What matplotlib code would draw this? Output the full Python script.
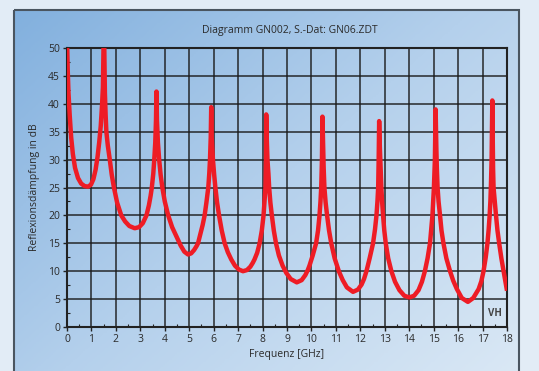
import numpy as np
import matplotlib
matplotlib.use("Agg")
import matplotlib.pyplot as plt
from matplotlib.patches import Rectangle
from matplotlib.colors import LinearSegmentedColormap

plt.rcParams['font.family'] = ['Open Sans', 'DejaVu Sans']

title = "Diagramm GN002, S.-Dat: GN06.ZDT"
xlabel = "Frequenz [GHz]"
ylabel = "Reflexionsdämpfung in dB"
corner_label = "VH"

# (frequency GHz, return loss dB), segment by segment
seg1 = [(0.00, 52.0), (0.03, 46.0), (0.06, 42.0), (0.11, 38.0), (0.17, 34.0), (0.24, 31.0),
        (0.33, 28.5), (0.45, 26.7), (0.58, 25.7), (0.72, 25.25), (0.86, 25.15), (0.98, 25.5),
        (1.08, 26.5), (1.17, 28.2), (1.25, 30.5), (1.32, 33.2), (1.38, 36.0), (1.43, 39.5),
        (1.47, 43.0), (1.51, 55.0)]
seg2 = [(1.55, 42.0), (1.58, 38.0), (1.61, 35.0), (1.67, 32.5), (1.75, 30.0), (1.83, 27.3),
        (1.92, 25.0), (2.05, 22.3), (2.22, 20.0), (2.38, 18.9), (2.55, 18.1), (2.77, 17.7),
        (2.95, 17.9), (3.10, 18.6), (3.25, 20.0), (3.35, 21.8), (3.42, 23.5), (3.47, 25.0),
        (3.53, 27.5), (3.57, 30.0), (3.61, 33.0), (3.64, 37.0), (3.66, 42.2)]
seg3 = [(3.68, 37.0), (3.72, 33.0), (3.77, 30.0), (3.83, 27.3), (3.90, 25.0), (4.00, 22.5),
        (4.14, 20.0), (4.30, 17.9), (4.48, 16.2), (4.65, 14.6), (4.80, 13.5), (4.95, 13.0),
        (5.08, 13.2), (5.20, 13.8), (5.30, 14.5), (5.36, 15.0), (5.46, 16.7), (5.55, 18.3),
        (5.63, 20.0), (5.70, 22.2), (5.78, 25.0), (5.82, 27.5), (5.85, 30.0), (5.88, 34.0),
        (5.90, 39.4)]
seg4 = [(5.92, 34.0), (5.97, 30.0), (6.02, 27.3), (6.07, 25.0), (6.14, 22.3), (6.22, 20.0),
        (6.33, 17.3), (6.45, 15.0), (6.58, 13.4), (6.72, 12.1), (6.87, 11.0), (7.03, 10.3),
        (7.20, 10.0), (7.36, 10.2), (7.50, 10.8), (7.60, 11.5), (7.67, 12.1), (7.78, 13.3),
        (7.88, 15.0), (7.97, 17.3), (8.04, 20.0), (8.08, 22.5), (8.12, 25.0), (8.14, 30.0),
        (8.15, 38.1)]
seg5 = [(8.17, 34.0), (8.20, 30.0), (8.24, 27.5), (8.27, 25.0), (8.32, 22.3), (8.38, 20.0),
        (8.46, 17.3), (8.55, 15.0), (8.67, 12.8), (8.82, 11.0), (8.97, 9.7), (9.15, 8.6),
        (9.40, 8.0), (9.60, 8.4), (9.75, 9.3), (9.85, 10.2), (9.92, 11.0), (10.05, 12.8),
        (10.19, 15.0), (10.27, 17.3), (10.33, 20.0), (10.37, 22.5), (10.40, 25.0),
        (10.43, 30.0), (10.45, 37.7)]
seg6 = [(10.48, 32.0), (10.50, 28.5), (10.53, 25.0), (10.58, 22.3), (10.64, 20.0),
        (10.72, 17.3), (10.81, 15.0), (10.95, 12.3), (11.12, 10.0), (11.28, 8.4),
        (11.45, 7.1), (11.70, 6.3), (11.90, 6.7), (12.05, 7.6), (12.15, 8.6), (12.25, 10.0),
        (12.38, 12.3), (12.52, 15.0), (12.60, 17.5), (12.66, 20.0), (12.70, 22.5),
        (12.73, 25.0), (12.75, 30.0), (12.77, 36.9)]
seg7 = [(12.80, 32.0), (12.83, 28.5), (12.86, 25.0), (12.89, 22.5), (12.93, 20.0),
        (12.98, 17.3), (13.04, 15.0), (13.14, 12.3), (13.27, 10.0), (13.42, 8.1),
        (13.60, 6.6), (13.80, 5.6), (14.00, 5.3), (14.20, 5.6), (14.38, 6.6), (14.52, 8.1),
        (14.64, 10.0), (14.75, 12.3), (14.85, 15.0), (14.90, 17.5), (14.95, 20.0),
        (14.98, 22.5), (15.01, 25.0), (15.05, 30.0), (15.08, 39.0)]
seg8 = [(15.11, 32.0), (15.13, 28.5), (15.16, 25.0), (15.20, 22.5), (15.26, 20.0),
        (15.32, 17.3), (15.40, 15.0), (15.52, 12.3), (15.67, 10.0), (15.80, 8.3),
        (15.95, 6.8), (16.15, 5.2), (16.40, 4.5), (16.62, 5.2), (16.84, 6.8), (16.95, 8.2),
        (17.04, 10.0), (17.13, 12.5), (17.20, 15.0), (17.25, 17.5), (17.29, 20.0),
        (17.32, 22.5), (17.34, 25.0), (17.37, 30.0), (17.40, 40.6)]
seg9 = [(17.42, 32.0), (17.43, 28.5), (17.45, 25.0), (17.50, 22.5), (17.55, 20.0),
        (17.61, 17.3), (17.68, 15.0), (17.77, 12.3), (17.86, 10.0), (17.93, 8.1),
        (18.00, 6.5)]

segments = [seg1, seg2, seg3, seg4, seg5, seg6, seg7, seg8, seg9]
freq_ghz = [p[0] for s in segments for p in s]
return_loss_db = [p[1] for s in segments for p in s]

x_ticks = list(range(0, 19))
y_ticks = list(range(0, 51, 5))

W, H = 539, 371
fig = plt.figure(figsize=(W / 100, H / 100), dpi=100)
fig.patch.set_facecolor('#e2ecf6')

# background panel
bg = fig.add_axes([0, 0, 1, 1])
bg.set_xlim(0, W)
bg.set_ylim(H, 0)
bg.axis('off')
gy, gx = np.mgrid[0:1:200j, 0:1:300j]
grad = 0.55 * gx + 0.45 * gy
cmap = LinearSegmentedColormap.from_list('panel', ['#82b0de', '#b4d0ec', '#dae8f5'])
bg.imshow(grad, extent=[14, 519, H + 2, 10], cmap=cmap, aspect='auto', zorder=0)
bg.add_patch(Rectangle((14, 10), 505, H, fill=False, edgecolor='#4a5560', linewidth=1.5, zorder=1))

ax = fig.add_axes([67 / W, 1 - 327 / H, 440 / W, 279 / H])
ax.set_facecolor('none')
ax.plot(freq_ghz, return_loss_db, color='#ee1c25', linewidth=3.2,
        solid_joinstyle='round', solid_capstyle='butt', zorder=3)
ax.set_xlim(0, 18)
ax.set_ylim(0, 50)
ax.set_xticks(x_ticks)
ax.set_yticks(y_ticks)
ax.set_xticks(np.arange(0.5, 18, 1.0), minor=True)
ax.set_yticks(np.arange(2.5, 50, 5.0), minor=True)
ax.grid(True, which='major', color='#1a1a1a', linewidth=1.2, alpha=0.85, zorder=1)
ax.tick_params(which='major', direction='out', length=3, width=1, colors='#222',
               labelsize=7.5, labelcolor='#2a2a2a', pad=2)
ax.tick_params(which='minor', direction='in', length=2, width=0.8, colors='#222')
for s in ax.spines.values():
    s.set_color('#222')
    s.set_linewidth(1.5)

ax.set_xlabel(xlabel, fontsize=7.5, color='#2a2a2a', labelpad=3)
ax.set_ylabel(ylabel, fontsize=7.5, color='#2a2a2a', labelpad=6)
fig.text(290 / W, 1 - 31 / H, title, ha='center', va='center', fontsize=7.5, color='#2a2a2a')
ax.text(0.972, 0.03, corner_label, transform=ax.transAxes, ha='center', va='bottom',
        fontsize=7, fontweight='bold', color='#444')

fig.savefig('out.png', dpi=100, facecolor=fig.get_facecolor())
